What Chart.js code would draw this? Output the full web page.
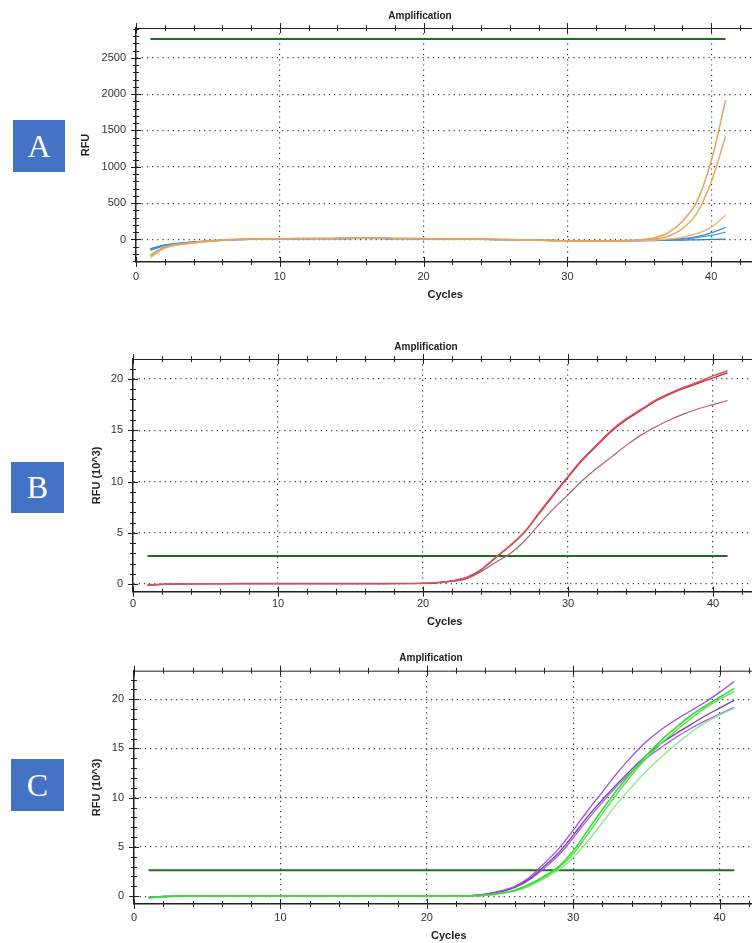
<!DOCTYPE html>
<html>
<head>
<meta charset="utf-8">
<script src="https://cdn.jsdelivr.net/npm/chart.js@4.4.1/dist/chart.umd.min.js"></script>
<style>
  html, body { margin: 0; padding: 0; background: #fff; }
  body { width: 752px; height: 943px; overflow: hidden; position: relative; font-family: "Liberation Sans", Arial, sans-serif; }
  canvas { position: absolute; left: 0; }
  .tag { position: absolute; background: #4472c4; color: #fff; font-family: "Liberation Serif", "DejaVu Serif", serif; font-size: 32px; display: flex; align-items: center; justify-content: center; }
  .ttl { position: absolute; width: 200px; text-align: center; font-weight: bold; font-size: 10px; line-height: 12px; color: #222; }
</style>
</head>
<body>
<canvas id="chartA" width="800" height="310" style="top:0px"></canvas>
<canvas id="chartB" width="800" height="315" style="top:320px"></canvas>
<canvas id="chartC" width="800" height="308" style="top:635px"></canvas>

<div class="tag" style="left:13px;top:120px;width:52px;height:52px">A</div>
<div class="tag" style="left:11px;top:462px;width:53px;height:51px">B</div>
<div class="tag" style="left:11px;top:759px;width:53px;height:52px">C</div>

<div class="ttl" style="left:320px;top:10px">Amplification</div>
<div class="ttl" style="left:326px;top:341px">Amplification</div>
<div class="ttl" style="left:331px;top:652px">Amplification</div>

<script>
// cycle numbers shared by all three runs
const cycles = [1,2,3,4,5,6,7,8,9,10,11,12,13,14,15,16,17,18,19,20,21,22,23,24,25,26,27,28,29,30,31,32,33,34,35,36,37,38,39,40,41];

// A: RFU
const aOrange1 = [-230,-110,-70,-45,-25,-10,0,5,8,10,12,12,14,15,18,20,18,15,14,12,10,8,6,4,2,0,-5,-10,-14,-18,-20,-20,-18,-15,-5,20,90,250,520,1080,1917];
const aOrange2 = [-210,-100,-65,-40,-22,-8,2,6,9,11,12,13,14,16,17,18,17,15,13,11,9,7,5,3,1,-1,-6,-11,-15,-19,-21,-22,-20,-18,-10,5,45,150,360,790,1420];
const aOrange3 = [-250,-120,-75,-48,-28,-12,-2,4,7,9,11,12,13,14,16,17,16,14,12,10,8,6,4,2,0,-2,-7,-12,-16,-20,-22,-23,-22,-20,-16,-10,5,30,80,170,334];
const aBlue1 = [-140,-80,-55,-38,-22,-10,-2,3,6,8,10,11,12,13,14,15,14,13,11,9,7,5,3,1,-1,-3,-7,-11,-14,-17,-19,-20,-19,-17,-14,-10,-5,10,40,90,165];
const aBlue2 = [-150,-85,-58,-40,-24,-11,-3,2,5,7,9,10,11,12,13,14,13,12,10,8,6,4,2,0,-2,-4,-8,-12,-15,-18,-20,-21,-20,-18,-15,-12,-8,5,25,55,100];
const aBlue3 = [-130,-75,-52,-35,-20,-9,-1,4,7,9,10,11,12,13,14,15,14,13,11,9,7,5,3,1,-1,-3,-7,-11,-14,-17,-19,-20,-20,-19,-17,-15,-12,-8,-5,0,5];
const thresholdA = 2760;

// B: RFU (10^3)
const bRed1 = [-0.12,-0.05,0.0,0.02,0.03,0.03,0.04,0.04,0.04,0.04,0.04,0.04,0.04,0.04,0.04,0.04,0.04,0.05,0.05,0.07,0.15,0.32,0.65,1.4,2.6,3.75,5.1,6.95,8.75,10.5,12.2,13.6,15.0,16.1,17.0,17.9,18.6,19.2,19.7,20.3,20.8];
const bRed2 = [-0.1,-0.04,0.0,0.02,0.03,0.03,0.03,0.03,0.04,0.04,0.04,0.04,0.04,0.04,0.04,0.04,0.04,0.05,0.05,0.06,0.14,0.3,0.62,1.35,2.55,3.7,5.05,6.85,8.65,10.4,12.1,13.5,14.9,16.0,16.9,17.8,18.5,19.1,19.6,20.1,20.6];
const bRed3 = [-0.1,-0.04,0.0,0.02,0.02,0.03,0.03,0.03,0.03,0.03,0.03,0.03,0.03,0.03,0.03,0.03,0.04,0.04,0.04,0.05,0.12,0.25,0.5,1.2,2.1,2.95,4.2,5.8,7.35,8.7,10.1,11.3,12.4,13.5,14.5,15.3,16.0,16.6,17.1,17.5,17.9];
const thresholdB = 2.73;

// C: RFU (10^3)
const cPurple1 = [-0.15,-0.05,0.0,0.01,0.02,0.02,0.02,0.02,0.02,0.02,0.02,0.02,0.02,0.02,0.02,0.02,0.02,0.02,0.02,0.02,0.02,0.03,0.06,0.2,0.5,1.0,1.9,3.3,4.8,6.7,8.7,10.6,12.5,14.2,15.7,16.9,17.9,18.8,19.7,20.7,21.8];
const cPurple2 = [-0.12,-0.04,0.0,0.01,0.02,0.02,0.02,0.02,0.02,0.02,0.02,0.02,0.02,0.02,0.02,0.02,0.02,0.02,0.02,0.02,0.02,0.03,0.05,0.18,0.45,0.9,1.75,3.0,4.4,6.2,8.1,9.8,11.4,12.9,14.3,15.5,16.5,17.4,18.3,19.1,19.9];
const cPurple3 = [-0.13,-0.04,0.0,0.01,0.02,0.02,0.02,0.02,0.02,0.02,0.02,0.02,0.02,0.02,0.02,0.02,0.02,0.02,0.02,0.02,0.02,0.03,0.05,0.17,0.42,0.85,1.65,2.8,4.15,5.9,7.8,9.55,11.2,12.7,14.0,15.1,16.1,17.0,17.8,18.5,19.2];
const cGreen1 = [-0.18,-0.06,0.0,0.01,0.01,0.01,0.01,0.01,0.01,0.01,0.01,0.01,0.01,0.01,0.01,0.01,0.01,0.01,0.01,0.01,0.01,0.02,0.03,0.1,0.3,0.6,1.2,2.0,3.0,4.6,6.7,8.8,10.8,12.6,14.3,15.8,17.1,18.3,19.3,20.2,21.1];
const cGreen2 = [-0.16,-0.05,0.0,0.01,0.01,0.01,0.01,0.01,0.01,0.01,0.01,0.01,0.01,0.01,0.01,0.01,0.01,0.01,0.01,0.01,0.01,0.02,0.03,0.09,0.28,0.56,1.1,1.9,2.85,4.3,6.3,8.4,10.4,12.3,14.0,15.5,16.8,18.0,19.1,20.0,20.8];
const cGreen3 = [-0.2,-0.06,0.0,0.01,0.01,0.01,0.01,0.01,0.01,0.01,0.01,0.01,0.01,0.01,0.01,0.01,0.01,0.01,0.01,0.01,0.01,0.02,0.03,0.08,0.25,0.5,1.0,1.75,2.65,3.9,5.6,7.5,9.4,11.1,12.7,14.1,15.4,16.6,17.6,18.4,19.1];
const thresholdC = 2.64;

const FONT = "'Liberation Sans', Arial, sans-serif";

function pts(values) {
  return cycles.map((c, i) => ({ x: c, y: values[i] }));
}
function thresholdPts(v) {
  return [{ x: cycles[0], y: v }, { x: cycles[cycles.length - 1], y: v }];
}
function curve(values, color, width) {
  return { data: pts(values), borderColor: color, borderWidth: width || 1.3 };
}
function threshold(v) {
  return { data: thresholdPts(v), borderColor: '#1f6e1f', borderWidth: 2, tension: 0 };
}

// tick marks crossing the axes, plus the top frame line
const axisMarks = {
  id: 'axisMarks',
  afterDraw(chart) {
    const { ctx, chartArea: a, scales: { x, y } } = chart;
    ctx.save();
    ctx.strokeStyle = '#222';
    ctx.lineWidth = 1;
    ctx.beginPath();
    ctx.moveTo(a.left, a.top + 0.5);
    ctx.lineTo(a.right, a.top + 0.5);
    x.ticks.forEach(t => {
      const px = Math.round(x.getPixelForValue(t.value)) + 0.5;
      const len = t.label !== '' ? 5 : 3;
      ctx.moveTo(px, a.bottom - len); ctx.lineTo(px, a.bottom + len);
      ctx.moveTo(px, a.top - len); ctx.lineTo(px, a.top + len);
    });
    y.ticks.forEach(t => {
      const py = Math.round(y.getPixelForValue(t.value)) + 0.5;
      const len = t.label !== '' ? 5 : 3;
      ctx.moveTo(a.left - len, py); ctx.lineTo(a.left + len, py);
    });
    ctx.stroke();
    ctx.restore();
  }
};

const gridColor = c => (c.tick && c.tick.label !== '' ? '#3a3a3a' : 'rgba(0,0,0,0)');

function panel(id, p, datasets) {
  const padLeft = p.rfuX - 6.6;
  const plotRight = p.plotLeft + 43 * p.ppc;
  new Chart(document.getElementById(id), {
    type: 'line',
    data: { datasets },
    options: {
      responsive: false,
      animation: false,
      devicePixelRatio: 1,
      layout: { padding: { left: padLeft, top: p.plotTop - p.top, right: 800 - plotRight, bottom: 0 } },
      plugins: { legend: { display: false }, tooltip: { enabled: false } },
      elements: { point: { radius: 0 }, line: { tension: 0.35 } },
      scales: {
        x: {
          type: 'linear', min: 0, max: 43,
          afterFit: s => { s.height = p.top + p.height - p.plotBottom; },
          ticks: {
            stepSize: 2, includeBounds: false, autoSkip: false, maxRotation: 0,
            padding: p.xTickPad, color: '#333', font: { size: 11, family: FONT },
            callback: v => (v % 10 === 0 ? String(v) : '')
          },
          grid: { drawTicks: false, color: gridColor, lineWidth: 1.2 },
          border: { color: '#222', width: 1.5, dash: [1.2, 4] },
          title: {
            display: true, text: 'Cycles', color: '#222',
            font: { size: 11, weight: 'bold', family: FONT },
            padding: { top: 0, bottom: (p.top + p.height - p.cyclesY) - 6.6 }
          }
        },
        y: {
          type: 'linear', min: p.yMin, max: p.yMax,
          afterFit: s => { s.width = p.plotLeft - padLeft; },
          ticks: {
            stepSize: p.yStep, includeBounds: false, autoSkip: false,
            padding: 10, color: '#333', font: { size: 11, family: FONT },
            callback: v => (Math.abs(v % p.yMajor) < 1e-9 ? String(Math.round(v)) : '')
          },
          grid: { drawTicks: false, color: gridColor, lineWidth: 1.2 },
          border: { color: '#222', width: 1.5, dash: [1.2, 4] },
          title: {
            display: true, text: p.yTitle, color: '#222',
            font: { size: 11, weight: 'bold', family: FONT },
            padding: { top: 0, bottom: 0 }
          }
        }
      }
    },
    plugins: [axisMarks]
  });
}

panel('chartA', {
  top: 0, height: 310, plotTop: 28, plotBottom: 262, plotLeft: 136, ppc: 14.38,
  cyclesY: 295, rfuX: 86, xTickPad: 8.4,
  yMin: -310, yMax: 2910, yStep: 100, yMajor: 500, yTitle: 'RFU'
}, [
  curve(aOrange1, '#e6a25a', 1.5),
  curve(aOrange2, '#e9a862', 1.5),
  curve(aOrange3, '#efb679', 1.4),
  curve(aBlue1, '#3d8fd6'),
  curve(aBlue2, '#4a9be0'),
  curve(aBlue3, '#2f7cc8'),
  threshold(thresholdA)
]);

panel('chartB', {
  top: 320, height: 315, plotTop: 359, plotBottom: 591.7, plotLeft: 133, ppc: 14.5,
  cyclesY: 622, rfuX: 97, xTickPad: 5.7,
  yMin: -0.75, yMax: 21.95, yStep: 1, yMajor: 5, yTitle: 'RFU (10^3)'
}, [
  curve(bRed1, '#e0505a', 1.5),
  curve(bRed2, '#a52838', 1.2),
  curve(bRed3, '#b5606e', 1.2),
  threshold(thresholdB)
]);

panel('chartC', {
  top: 635, height: 308, plotTop: 670.7, plotBottom: 904, plotLeft: 134, ppc: 14.64,
  cyclesY: 936, rfuX: 97, xTickPad: 7.7,
  yMin: -0.8, yMax: 22.9, yStep: 1, yMajor: 5, yTitle: 'RFU (10^3)'
}, [
  curve(cGreen1, '#3adb3a', 1.6),
  curve(cGreen2, '#55e055', 1.4),
  curve(cGreen3, '#88e888', 1.3),
  curve(cPurple1, '#9a50d4'),
  curve(cPurple2, '#7a3bb5'),
  curve(cPurple3, '#a862da'),
  threshold(thresholdC)
]);
</script>
</body>
</html>
